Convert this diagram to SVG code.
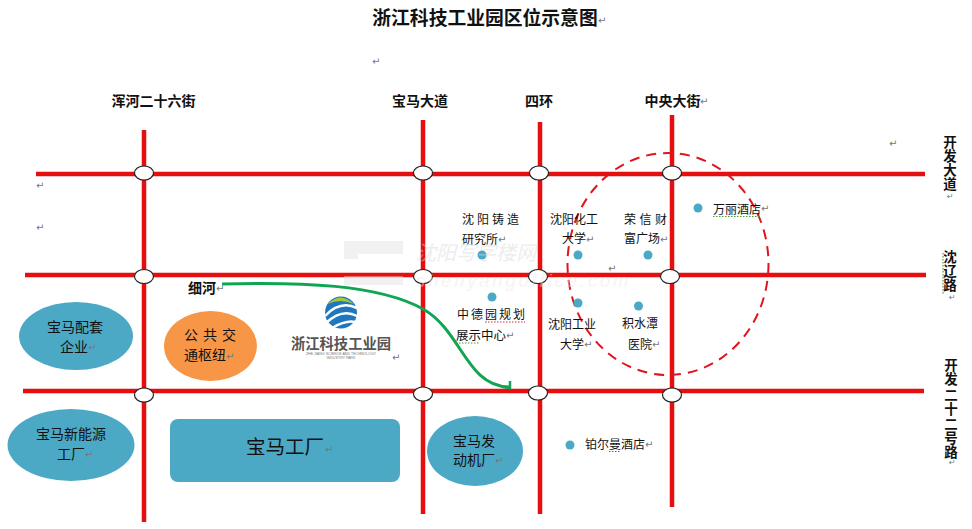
<svg xmlns="http://www.w3.org/2000/svg" width="972" height="529" viewBox="0 0 972 529">
<style>
text{font-family:"Noto Sans CJK SC","Liberation Sans",sans-serif;fill:#111}
.t{font-size:14px;font-weight:700;text-anchor:middle}
.v{font-size:13.5px;font-weight:700;text-anchor:middle}
.p{font-size:12px}
.n{font-size:14px}
.r{font-family:"DejaVu Sans",sans-serif;font-size:10px;fill:#777}
.road{stroke:#e60f0f;stroke-width:4.5;fill:none}
.jn{fill:#fff;stroke:#222;stroke-width:1.2}
.dot{fill:#4ba9c6}
.blue{fill:#4ba9c6}
.sq{fill:none;stroke-width:1.2;stroke-dasharray:1.5 1.5}
</style>
<rect width="972" height="529" fill="#fff"/>
<g id="connectors">
<path class="road" d="M36 174H925M25 275H926M23 391H924M144 130V522M423 120V514M540 122V514M672 115V507"/>
<ellipse cx="668" cy="264" rx="100.5" ry="111" fill="none" stroke="#e0141c" stroke-width="2" stroke-dasharray="10 7"/>
<path d="M222 284C300 282 378 284 423 309C462 331 466 386 509 387" fill="none" stroke="#10a552" stroke-width="3"/>
<path d="M510 381L510 388L503 387" fill="none" stroke="#10a552" stroke-width="2.5"/>
</g>
<g id="junctions">
<ellipse class="jn" cx="144" cy="173" rx="9.5" ry="7"/>
<ellipse class="jn" cx="423" cy="173" rx="9.5" ry="7"/>
<ellipse class="jn" cx="539" cy="173" rx="9.5" ry="7"/>
<ellipse class="jn" cx="672" cy="173" rx="9.5" ry="7"/>
<ellipse class="jn" cx="144" cy="276.500" rx="9.5" ry="7"/>
<ellipse class="jn" cx="423" cy="276.500" rx="9.5" ry="7"/>
<ellipse class="jn" cx="538" cy="276.500" rx="9.5" ry="7"/>
<ellipse class="jn" cx="670" cy="276.500" rx="9.5" ry="7"/>
<ellipse class="jn" cx="144" cy="395" rx="9.5" ry="7"/>
<ellipse class="jn" cx="423" cy="394" rx="9.5" ry="7"/>
<ellipse class="jn" cx="538" cy="393" rx="9.5" ry="7"/>
<ellipse class="jn" cx="672" cy="395" rx="9.5" ry="7"/>
</g>
<g id="title"><text x="485" y="25" font-size="18.800" font-weight="700" text-anchor="middle">浙江科技工业园区位示意图</text><text class="r" x="598" y="24">↵</text></g>
<g id="road-labels">
<text class="t" x="153.500" y="106">浑河二十六街</text>
<text class="t" x="420" y="106">宝马大道</text>
<text class="t" x="539" y="106">四环</text>
<text class="t" x="672.500" y="106">中央大街</text><text class="r" x="700" y="105">↵</text>
<text class="v" x="950" y="147">开</text><text class="v" x="950" y="161">发</text><text class="v" x="950" y="175">大</text><text class="v" x="950" y="189">道</text><text class="r" x="947" y="199" style="font-size:8px">↵</text>
<text class="v" x="950" y="262">沈</text><text class="v" x="950" y="276">辽</text><text class="v" x="950" y="290">路</text><text class="r" x="949" y="300" style="font-size:8px">↵</text>
<path class="sq" stroke="#5a9a3a" d="M943 253V295"/>
<text class="v" x="951" y="370">开</text><text class="v" x="951" y="384">发</text><text class="v" x="951" y="400">二</text><text class="v" x="951" y="414">十</text><text class="v" x="951" y="429">二</text><text class="v" x="951" y="443">号</text><text class="v" x="951" y="457">路</text><text class="r" x="949" y="465" style="font-size:8px">↵</text>
<text class="t" x="202" y="293">细河</text><text class="r" x="216" y="292">↵</text>
</g>
<g id="marks">
<text class="r" x="372" y="65">↵</text>
<text class="r" x="36" y="189">↵</text>
<text class="r" x="36" y="231">↵</text>
<text class="r" x="889" y="147">↵</text>
<text class="r" x="608" y="272">↵</text>
<text class="r" x="392" y="361">↵</text>
</g>
<g id="node-peijian"><ellipse class="blue" cx="76" cy="336" rx="57" ry="34"/><text class="n" x="47" y="332">宝马配套</text><text class="n" x="60" y="352">企业</text><text class="r" x="88" y="351">↵</text></g>
<g id="node-xinnengyuan"><ellipse class="blue" cx="71" cy="445" rx="63.500" ry="36"/><text class="n" x="36" y="439">宝马新能源</text><text class="n" x="57" y="459">工厂</text><text class="r" x="85" y="458">↵</text></g>
<g id="node-shuniu"><ellipse cx="210.500" cy="346" rx="46.500" ry="35" fill="#f79646"/><text class="n" x="184" y="340" letter-spacing="5">公共交</text><text class="n" x="184" y="360">通枢纽</text><text class="r" x="226" y="360">↵</text></g>
<g id="node-factory"><rect x="170" y="419" width="230" height="63" rx="8" class="blue"/><text x="246" y="454" font-size="19.500">宝马工厂</text><text class="r" x="325" y="453">↵</text></g>
<g id="node-engine"><ellipse class="blue" cx="475" cy="451" rx="48" ry="35"/><text class="n" x="453" y="446">宝马发</text><text class="n" x="453" y="465">动机厂</text><text class="r" x="495" y="464">↵</text></g>
<g id="node-logo">
<circle cx="341" cy="312.500" r="16" fill="#1f78bd"/>
<path d="M328 304Q340 291 354 304Q340 298 328 304Z" fill="#a4c639"/>
<path d="M325 316Q340 300 357 308M326 323Q342 308 357 316M332 328Q346 320 355 322" fill="none" stroke="#fff" stroke-width="2.500"/>
<text x="341" y="348.500" font-size="14.300" font-weight="700" text-anchor="middle" style="fill:#555">浙江科技工业园</text>
<text x="341" y="355" font-size="3.600" text-anchor="middle" style="fill:#777;font-family:'Liberation Sans',sans-serif">ZHE JIANG SCIENCE AND TECHNOLOGY</text>
<text x="341" y="359" font-size="3.600" text-anchor="middle" style="fill:#777;font-family:'Liberation Sans',sans-serif">INDUSTRY PARK</text>
</g>
<g id="poi-zhuzao"><circle class="dot" cx="482" cy="255" r="4.500"/><text class="p" x="462" y="224" letter-spacing="3">沈阳铸造</text><text class="p" x="462" y="244">研究所</text><text class="r" x="498" y="243">↵</text></g>
<g id="poi-zhongde"><circle class="dot" cx="492" cy="297" r="4.500"/><text class="p" x="457" y="319" letter-spacing="2">中德园规划</text><text class="p" x="456" y="340" style="font-size:12.500px">展示中心</text><text class="r" x="506" y="339">↵</text>
<path class="sq" stroke="#c33" d="M485 322H525"/><path class="sq" stroke="#4a9a3a" d="M456 343H480"/></g>
<g id="poi-huagong"><circle class="dot" cx="578" cy="255" r="4.500"/><text class="p" x="550" y="224">沈阳化工</text><text class="p" x="562" y="243">大学</text><text class="r" x="586" y="243">↵</text></g>
<g id="poi-rongxin"><circle class="dot" cx="648" cy="255" r="4.500"/><text class="p" x="624" y="224" letter-spacing="3.500">荣信财</text><text class="p" x="624" y="243">富广场</text><text class="r" x="660" y="243">↵</text></g>
<g id="poi-wanli"><circle class="dot" cx="698" cy="208" r="4.500"/><text class="p" x="713" y="214">万丽酒店</text><text class="r" x="761" y="212">↵</text>
<path class="sq" stroke="#4a9a3a" d="M713 216.500H760"/></g>
<g id="poi-gongye"><circle class="dot" cx="578" cy="303" r="4.500"/><text class="p" x="548" y="329">沈阳工业</text><text class="p" x="560" y="349">大学</text><text class="r" x="584" y="348">↵</text></g>
<g id="poi-jishuitan"><circle class="dot" cx="638.500" cy="306" r="4.500"/><text class="p" x="622" y="328">积水潭</text><text class="p" x="628" y="349">医院</text><text class="r" x="652" y="348">↵</text></g>
<g id="poi-boerman"><circle class="dot" cx="570" cy="445" r="4.500"/><text class="p" x="585" y="449">铂尔曼酒店</text><text class="r" x="645" y="448">↵</text>
<path class="sq" stroke="#c33" d="M609 451.500H621"/></g>
<g id="watermark" opacity="0.45">
<path d="M344 241H403V254H358V259H344ZM344 276H403V285H344Z" fill="#e2e2e2"/>
<text x="416" y="260" font-size="20" font-style="italic" style="fill:#d8d8d8">沈阳写字楼网</text>
<text x="416" y="287" font-size="18" font-style="italic" textLength="212" style="fill:#e8e8e8;font-family:'Liberation Sans',sans-serif">shenyangoffice.com</text>
</g>
</svg>
